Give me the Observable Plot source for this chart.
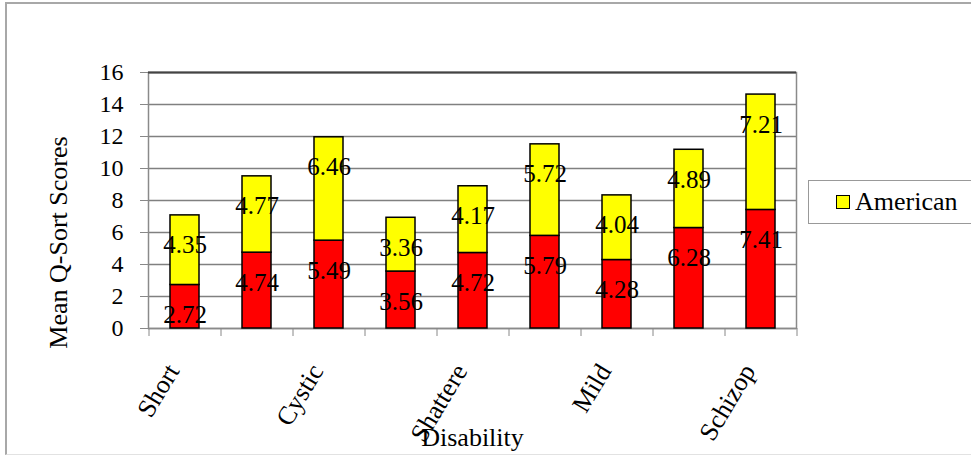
<!DOCTYPE html>
<html><head><meta charset="utf-8">
<script src="https://cdn.jsdelivr.net/npm/d3@7"></script>
<script src="https://cdn.jsdelivr.net/npm/@observablehq/plot@0.6"></script>
<style>
body{margin:0;background:#fff;width:971px;height:456px;overflow:hidden;position:relative;font-family:"Liberation Serif","Times New Roman",serif;}
#outer{position:absolute;left:5px;top:2px;width:1000px;height:450px;border-left:2px solid #a8a8a8;border-top:2px solid #a8a8a8;border-bottom:1px solid #e2e2e2;}
#chart{position:absolute;left:0;top:0;}
#legend{position:absolute;left:808px;top:180px;width:200px;height:42px;border:1.5px solid #999;background:#fff;}
#legend .sw{position:absolute;left:27px;top:14px;width:12px;height:12px;background:#ffff00;border:1.5px solid #000;}
#legend .lb{position:absolute;left:46px;top:4px;font-size:26px;color:#000;line-height:34px;}
</style></head>
<body>
<div id="outer"></div>
<div id="chart"></div>
<div id="legend"><div class="sw"></div><div class="lb">American</div></div>
<script>
const tickLabels = ["Short", "", "Cystic", "", "Shattere", "", "Mild", "", "Schizop"];
const seriesNames = ["Series1", "American"];
const seriesColors = ["#ff0000", "#ffff00"];
const red = [2.72, 4.74, 5.49, 3.56, 4.72, 5.79, 4.28, 6.28, 7.41];
const yellow = [4.35, 4.77, 6.46, 3.36, 4.17, 5.72, 4.04, 4.89, 7.21];
const yTicks = [0, 2, 4, 6, 8, 10, 12, 14, 16];
const yTitle = "Mean Q-Sort Scores";
const xTitle = "Disability";

const idx = d3.range(tickLabels.length);
const data = [];
idx.forEach(i => {
  data.push({i, series: seriesNames[0], value: red[i]});
  data.push({i, series: seriesNames[1], value: yellow[i]});
});

const plot = Plot.plot({
  width: 971, height: 456,
  marginLeft: 148, marginRight: 175, marginTop: 72, marginBottom: 128,
  style: {fontFamily: "'Liberation Serif', 'Times New Roman', serif", background: "transparent", color: "#000"},
  x: {type: "band", domain: idx, paddingInner: 0.6, paddingOuter: 0.3, axis: null},
  y: {domain: [0, 16], axis: null},
  color: {domain: seriesNames, range: seriesColors},
  marks: [
    Plot.gridY(yTicks, {stroke: "#808080", strokeOpacity: 1, strokeWidth: 1.3}),
    Plot.frame({stroke: "#8a8a8a", strokeWidth: 1.5}),
    Plot.ruleY([16], {stroke: "#444", strokeWidth: 2}),
    Plot.axisY(yTicks, {tickSize: 8, tickFormat: () => "", color: "#888", label: null}),
    Plot.axisY(yTicks, {tickSize: 0, tickPadding: 25, fontSize: 24, color: "#000", label: null}),
    Plot.axisX(idx, {tickSize: 8, tickFormat: () => "", dx: -36, color: "#888", label: null}),
    Plot.axisX([idx[idx.length - 1]], {tickSize: 8, tickFormat: () => "", dx: 36, color: "#888", label: null}),
    Plot.axisX(idx, {tickSize: 0, tickPadding: 38, dx: -12, tickRotate: -59, fontSize: 26, tickFormat: i => tickLabels[i], color: "#000", label: null}),
    Plot.barY(data, {x: "i", y: "value", fill: "series", stroke: "#000", strokeWidth: 1.5}),
    Plot.text(data, Plot.stackY2({x: "i", y: "value", z: "series", text: d => d.value.toFixed(2), dy: 30, fontSize: 25, fill: "#000"})),
    Plot.text([yTitle], {text: d => d, frameAnchor: "left", textAnchor: "middle", dx: -90, dy: 42, rotate: -90, fontSize: 26, fill: "#000"}),
    Plot.text([xTitle], {text: d => d, frameAnchor: "bottom", dy: 117, fontSize: 26, fill: "#000"})
  ]
});
document.getElementById("chart").appendChild(plot);
</script>
</body></html>
